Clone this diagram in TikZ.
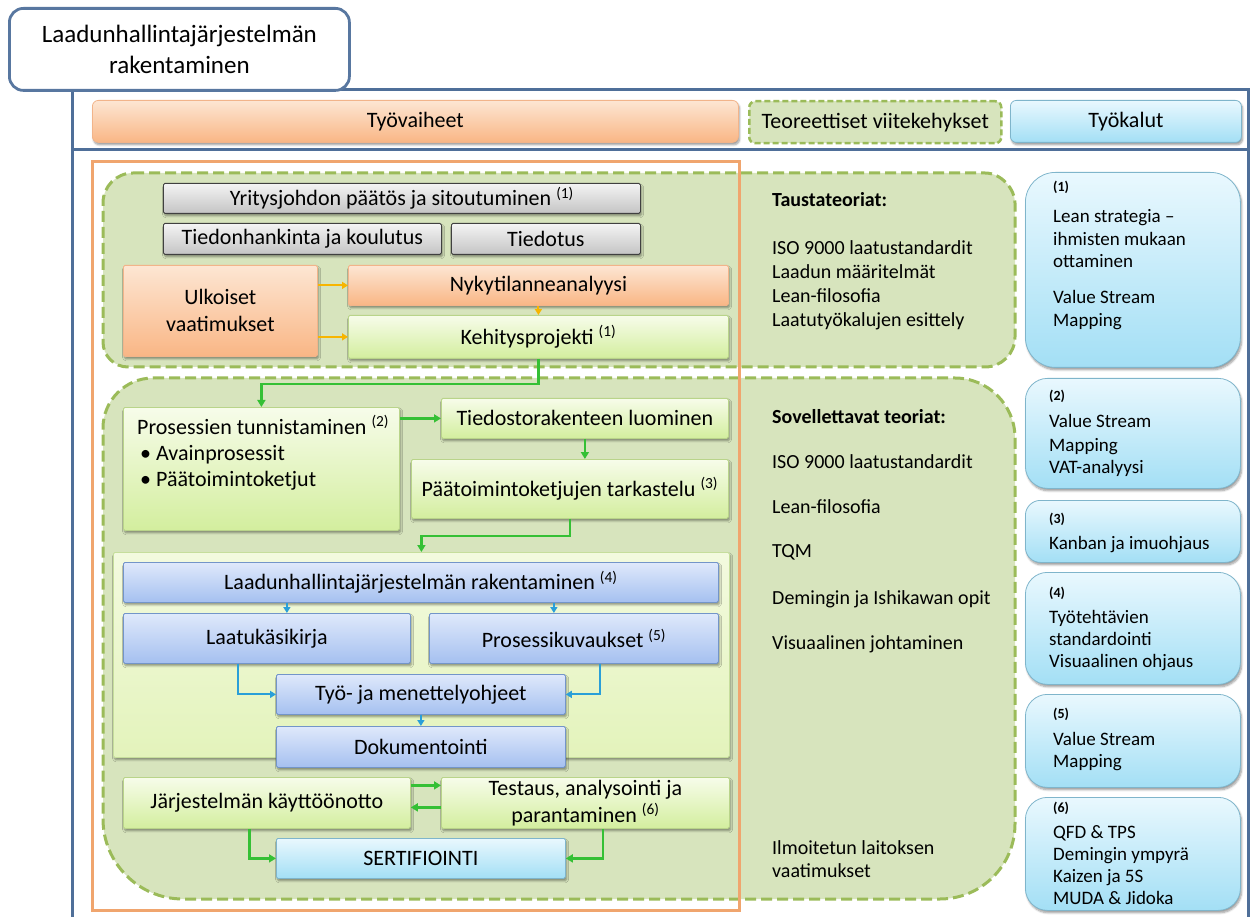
\documentclass[tikz,border=0pt]{standalone}
\usepackage{fontspec}
\setmainfont{Carlito}
\usetikzlibrary{arrows.meta,shadows.blur,calc}

% palette
\definecolor{frameblue}{HTML}{4F6F99}
\definecolor{titleblue}{HTML}{5877A0}
\definecolor{orangeframe}{HTML}{F0A56E}
\definecolor{regionfill}{HTML}{D7E4BD}
\definecolor{regiondash}{HTML}{9BBB59}
\definecolor{grayT}{HTML}{F4F4F4}
\definecolor{grayB}{HTML}{C4C4C4}
\definecolor{grayD}{HTML}{404040}
\definecolor{orT}{HTML}{FDE6D3}
\definecolor{orB}{HTML}{F9B685}
\definecolor{orD}{HTML}{F2B48A}
\definecolor{grT}{HTML}{F7FCEA}
\definecolor{grB}{HTML}{D3EE9E}
\definecolor{grD}{HTML}{B9D48A}
\definecolor{ctT}{HTML}{F3FADF}
\definecolor{ctB}{HTML}{E3F3BB}
\definecolor{ctD}{HTML}{C6DE9C}
\definecolor{blT}{HTML}{DFE9FB}
\definecolor{blB}{HTML}{A5C0F0}
\definecolor{blD}{HTML}{7395C9}
\definecolor{cyT}{HTML}{E9F8FE}
\definecolor{cyB}{HTML}{A3DFF5}
\definecolor{cyD}{HTML}{7FB5CB}
\definecolor{arrGreen}{HTML}{35C035}
\definecolor{arrBlue}{HTML}{2A9FD8}
\definecolor{arrAmber}{HTML}{F7B500}

\newcommand{\boxfont}{\fontsize{22pt}{27pt}\selectfont}
\newcommand{\theofont}{\fontsize{20pt}{24pt}\selectfont}
\newcommand{\toolfont}{\fontsize{19pt}{22.5pt}\selectfont}
\newcommand{\tagfont}{\fontsize{14pt}{16pt}\selectfont\bfseries}
\newcommand{\refno}[1]{\textsuperscript{(#1)}}

\tikzset{
  softshadow/.style={blur shadow={shadow xshift=1.2pt, shadow yshift=-2.4pt,
      shadow blur steps=6, shadow blur radius=2pt, shadow opacity=40}},
  basebox/.style={draw, line width=0.8pt, rounded corners=1.5pt, inner sep=2pt,
      align=center, font=\boxfont, anchor=north west, softshadow},
  graybox/.style={basebox, draw=grayD, top color=grayT, bottom color=grayB},
  orangebox/.style={basebox, draw=orD, top color=orT, bottom color=orB},
  greenbox/.style={basebox, draw=grD, top color=grT, bottom color=grB},
  bluebox/.style={basebox, draw=blD, top color=blT, bottom color=blB},
  cyanbox/.style={basebox, draw=cyD, top color=cyT, bottom color=cyB},
  container/.style={basebox, draw=ctD, top color=ctT, bottom color=ctB},
  toolbox/.style={draw=cyD, line width=0.8pt, top color=cyT, bottom color=cyB,
      anchor=north west, inner sep=0pt, minimum width=215pt, softshadow},
  region/.style={fill=regionfill, draw=regiondash, line width=3pt,
      dash pattern=on 11pt off 5pt},
  frameline/.style={draw=frameblue, line width=3pt},
  garrow/.style={draw=arrGreen, line width=2.4pt, -{Triangle[length=7pt,width=8pt]}},
  barrow/.style={draw=arrBlue, line width=2pt, -{Triangle[length=6pt,width=7pt]}},
  aarrow/.style={draw=arrAmber, line width=2pt, -{Triangle[length=6pt,width=7pt]}},
  theo/.style={anchor=base west, inner sep=0pt, font=\theofont},
  tool/.style={anchor=base west, inner sep=0pt, font=\toolfont},
  tag/.style={anchor=base west, inner sep=0pt, font=\tagfont},
  plain/.style={anchor=base west, inner sep=0pt, font=\boxfont},
}

\begin{document}
\begin{tikzpicture}[x=1pt, y=-1pt]
\useasboundingbox (0,0) rectangle (1251,917);

% outer frame
\draw[frameline] (72,88) -- (72,917);
\draw[frameline] (340,89.5) -- (1248,89.5) -- (1248,917);
\draw[frameline] (72,150) -- (1248,150);

% title
\node[draw=titleblue, line width=2.8pt, fill=white, rounded corners=14pt,
      minimum width=340pt, minimum height=82pt, anchor=north west, align=center,
      font=\fontsize{25pt}{31pt}\selectfont] (title) at (8,7)
      {Laadunhallintajärjestelmän\\rakentaminen};

% column headers
\node[orangebox, rounded corners=6pt, minimum width=646pt, minimum height=42pt] (hwork) at (92,100) {Työvaiheet};
\node[basebox, draw=regiondash, fill=regionfill, line width=2.5pt, dash pattern=on 6pt off 3pt,
      rounded corners=6pt, minimum width=252pt, minimum height=42pt, blur shadow={shadow opacity=0}] (htheo) at (748,100) {Teoreettiset viitekehykset};
\node[cyanbox, rounded corners=6pt, minimum width=231pt, minimum height=42pt] (htool) at (1010,100) {Työkalut};

% theory regions
\path[region] (133,173) -- (985,173) .. controls (1001.6,173) and (1015,189.4) .. (1015,203)
  -- (1015,337) .. controls (1015,353.6) and (1001.6,367) .. (985,367)
  -- (128,367) .. controls (114.2,367) and (103,355.8) .. (103,342)
  -- (103,203) .. controls (103,186.4) and (116.4,173) .. (133,173) -- cycle;
\path[region] (153,378) -- (955,378) .. controls (988.1,378) and (1015,404.9) .. (1015,438)
  -- (1015,824) .. controls (1015,865.4) and (981.4,899) .. (940,899)
  -- (183,899) .. controls (138.8,899) and (103,863.2) .. (103,819)
  -- (103,428) .. controls (103,400.4) and (125.4,378) .. (153,378) -- cycle;

% work phase frame
\draw[orangeframe, line width=3pt] (92,162) rectangle (739,910);

% upper phase boxes
\node[graybox, minimum width=477pt, minimum height=30pt] (yj) at (163,183) {Yritysjohdon päätös ja sitoutuminen \refno{1}};
\node[graybox, minimum width=278pt, minimum height=31pt] (tk) at (163,223) {Tiedonhankinta ja koulutus};
\node[graybox, minimum width=189pt, minimum height=31pt] (ti) at (451,223) {Tiedotus};
\node[orangebox, minimum width=194pt, minimum height=91pt] (ulk) at (123,265) {Ulkoiset\\vaatimukset};
\node[orangebox, minimum width=380pt, minimum height=40pt] (nyk) at (348,265) {Nykytilanneanalyysi};
\node[greenbox, minimum width=380pt, minimum height=43pt] (keh) at (348,315) {Kehitysprojekti \refno{1}};

\draw[aarrow] (ulk.east |- nyk.west) -- (nyk.west);
\draw[aarrow] (ulk.east |- keh.west) -- (keh.west);
\draw[aarrow] (nyk.south) -- (keh.north);

% lower phase boxes
\node[greenbox, minimum width=276pt, minimum height=123pt] (pros) at (123,407) {};
\node[plain] (pros1) at (137,434) {Prosessien tunnistaminen \refno{2}};
\node[plain] (pros2) at (140,460) {•\hspace{5pt}Avainprosessit};
\node[plain] (pros3) at (140,486) {•\hspace{5pt}Päätoimintoketjut};
\node[greenbox, minimum width=287pt, minimum height=40pt] (tied) at (441,398) {Tiedostorakenteen luominen};
\node[greenbox, minimum width=317pt, minimum height=59pt] (paat) at (411,459) {Päätoimintoketjujen tarkastelu \refno{3}};

\draw[garrow] (keh.south) -- ++(0,25) -| (pros.north);
\draw[garrow] (pros.east |- tied.west) -- (tied.west);
\draw[garrow] (tied.south) -- (tied.south |- paat.north);

% documentation block
\node[container, minimum width=616pt, minimum height=205pt] (cont) at (113,552) {};
\draw[garrow] (paat.south) -- ++(0,17) -| (cont.north);

\node[bluebox, minimum width=595pt, minimum height=40pt] (lhj) at (123,562) {Laadunhallintajärjestelmän rakentaminen \refno{4}};
\node[bluebox, minimum width=287pt, minimum height=50pt] (laatu) at (123,613) {Laatukäsikirja};
\node[bluebox, minimum width=289pt, minimum height=50pt] (pk) at (429,613) {Prosessikuvaukset \refno{5}};
\node[bluebox, minimum width=289pt, minimum height=40pt] (tyo) at (276,674) {Työ- ja menettelyohjeet};
\node[bluebox, minimum width=289pt, minimum height=41pt] (dok) at (276,726) {Dokumentointi};

\coordinate (laatuIn) at ($(laatu.north)+(20,0)$);
\coordinate (pkIn) at ($(pk.north)+(-20,0)$);
\draw[barrow] (laatuIn |- lhj.south) -- (laatuIn);
\draw[barrow] (pkIn |- lhj.south) -- (pkIn);
\coordinate (laatuOut) at ($(laatu.south west)!0.4!(laatu.south east)$);
\coordinate (pkOut) at ($(pk.south west)!0.59!(pk.south east)$);
\draw[barrow] (laatuOut) |- (tyo.west);
\draw[barrow] (pkOut) |- (tyo.east);
\draw[barrow] (tyo.south) -- (dok.north);

% deployment and certification
\node[greenbox, minimum width=287pt, minimum height=51pt] (jarj) at (123,777) {Järjestelmän käyttöönotto};
\node[greenbox, minimum width=288pt, minimum height=51pt] (test) at (441,777) {Testaus, analysointi ja\\parantaminen \refno{6}};
\node[cyanbox, minimum width=289pt, minimum height=40pt] (sert) at (276,838) {SERTIFIOINTI};

\coordinate (jt) at ($(jarj.east)+(0,-17.5)$);
\coordinate (tj) at ($(test.west)+(0,4.5)$);
\draw[garrow] (jt) -- (jt -| test.west);
\draw[garrow] (tj) -- (tj -| jarj.east);
\coordinate (jarjOut) at ($(jarj.south west)!0.44!(jarj.south east)$);
\coordinate (testOut) at ($(test.south west)!0.56!(test.south east)$);
\draw[garrow] (jarjOut) |- (sert.west);
\draw[garrow] (testOut) |- (sert.east);

% theoretical frameworks
\node[theo, font=\theofont\bfseries] (bgHead) at (772,206.5) {Taustateoriat:};
\node[theo] (bg1) at (772,254.5) {ISO 9000 laatustandardit};
\node[theo] (bg2) at (772,278.5) {Laadun määritelmät};
\node[theo] (bg3) at (772,302.5) {Lean-filosofia};
\node[theo] (bg4) at (772,326.5) {Laatutyökalujen esittely};

\node[theo, font=\theofont\bfseries] (apHead) at (772,423.5) {Sovellettavat teoriat:};
\node[theo] (ap1) at (772,468.5) {ISO 9000 laatustandardit};
\node[theo] (ap2) at (772,513.5) {Lean-filosofia};
\node[theo] (ap3) at (772,557.5) {TQM};
\node[theo] (ap4) at (772,604.5) {Demingin ja Ishikawan opit};
\node[theo] (ap5) at (772,649.5) {Visuaalinen johtaminen};
\node[theo] (ap6) at (772,854.5) {Ilmoitetun laitoksen};
\node[theo] (ap7) at (772,877.5) {vaatimukset};

% tools
\node[toolbox, rounded corners=30pt, minimum height=195pt] (tb1) at (1025,172) {};
\node[toolbox, rounded corners=22pt, minimum height=110pt] (tb2) at (1025,378) {};
\node[toolbox, rounded corners=15pt, minimum height=62pt] (tb3) at (1025,500) {};
\node[toolbox, rounded corners=22pt, minimum height=112pt] (tb4) at (1025,572) {};
\node[toolbox, rounded corners=22pt, minimum height=93pt] (tb5) at (1025,694) {};
\node[toolbox, rounded corners=22pt, minimum height=113pt] (tb6) at (1025,797) {};

\node[tag] (tg1) at (1053,192) {(1)};
\node[tool] (t1a) at (1053,223) {Lean strategia –};
\node[tool] (t1b) at (1053,245.5) {ihmisten mukaan};
\node[tool] (t1c) at (1053,268) {ottaminen};
\node[tool] (t1d) at (1053,304) {Value Stream};
\node[tool] (t1e) at (1053,327) {Mapping};

\node[tag] (tg2) at (1049,401) {(2)};
\node[tool] (t2a) at (1049,428) {Value Stream};
\node[tool] (t2b) at (1049,451) {Mapping};
\node[tool] (t2c) at (1049,473.5) {VAT-analyysi};

\node[tag] (tg3) at (1049,523) {(3)};
\node[tool] (t3a) at (1049,549) {Kanban ja imuohjaus};

\node[tag] (tg4) at (1049,597) {(4)};
\node[tool] (t4a) at (1049,623) {Työtehtävien};
\node[tool] (t4b) at (1049,645) {standardointi};
\node[tool] (t4c) at (1049,667) {Visuaalinen ohjaus};

\node[tag] (tg5) at (1053,718) {(5)};
\node[tool] (t5a) at (1053,745) {Value Stream};
\node[tool] (t5b) at (1053,767) {Mapping};

\node[tag] (tg6) at (1053,812) {(6)};
\node[tool] (t6a) at (1053,838) {QFD \& TPS};
\node[tool] (t6b) at (1053,860) {Demingin ympyrä};
\node[tool] (t6c) at (1053,882) {Kaizen ja 5S};
\node[tool] (t6d) at (1053,904) {MUDA \& Jidoka};
\end{tikzpicture}
\end{document}
